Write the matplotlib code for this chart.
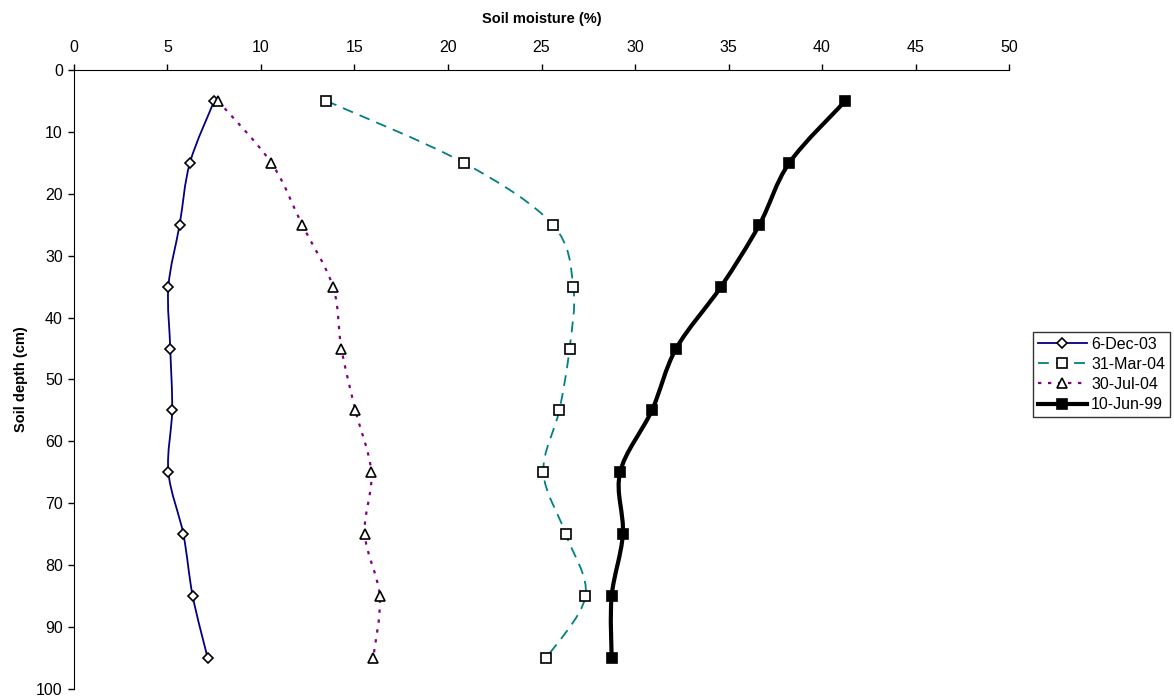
import numpy as np
import matplotlib
matplotlib.use("Agg")
import matplotlib.pyplot as plt
from matplotlib.path import Path
from matplotlib.patches import PathPatch
from matplotlib.lines import Line2D

plt.rcParams['font.family'] = ['Liberation Sans', 'DejaVu Sans']

depth = [5, 15, 25, 35, 45, 55, 65, 75, 85, 95]
dec03 = [7.5, 6.2, 5.65, 5.05, 5.15, 5.25, 5.05, 5.85, 6.35, 7.15]
mar04 = [13.5, 20.85, 25.6, 26.7, 26.5, 25.95, 25.1, 26.3, 27.35, 25.25]
jul04 = [7.7, 10.55, 12.2, 13.85, 14.3, 15.05, 15.9, 15.55, 16.35, 16.0]
jun99 = [41.25, 38.25, 36.65, 34.6, 32.2, 30.9, 29.2, 29.35, 28.75, 28.75]

labels = ["6-Dec-03", "31-Mar-04", "30-Jul-04", "10-Jun-99"]


def smooth_path(xs, ys):
    # Excel-style smoothed line: Catmull-Rom segments as cubic Beziers
    pts = np.column_stack([xs, ys]).astype(float)
    n = len(pts)
    verts = [pts[0]]
    codes = [Path.MOVETO]
    for i in range(n - 1):
        p0 = pts[i - 1] if i > 0 else pts[i]
        p1 = pts[i]
        p2 = pts[i + 1]
        p3 = pts[i + 2] if i + 2 < n else pts[i + 1]
        c1 = p1 + (p2 - p0) / 6.0
        c2 = p2 - (p3 - p1) / 6.0
        verts += [c1, c2, p2]
        codes += [Path.CURVE4] * 3
    return Path(verts, codes)


fig = plt.figure(figsize=(11.74, 6.99), dpi=100)
ax = fig.add_axes([0.063, 0.0143, 0.7965, 0.8856])

series = [
    (dec03, "#000080", "-", 1.3, "D", "white", 5),
    (mar04, "#008080", (0, (6, 4)), 1.3, "s", "white", 7),
    (jul04, "#800080", (0, (1.5, 3)), 1.6, "^", "white", 7),
    (jun99, "black", "-", 3.0, "s", "black", 7),
]

handles = []
for (vals, color, ls, lw, mk, mfc, ms), lab in zip(series, labels):
    patch = PathPatch(smooth_path(vals, depth), facecolor="none", edgecolor=color,
                      linestyle=ls, linewidth=lw, zorder=2)
    ax.add_patch(patch)
    ax.plot(vals, depth, linestyle="none", marker=mk, markersize=ms,
            markerfacecolor=mfc, markeredgecolor="black", markeredgewidth=1.2, zorder=3)
    handles.append(Line2D([], [], color=color, linestyle=ls, linewidth=lw, marker=mk,
                          markersize=ms, markerfacecolor=mfc, markeredgecolor="black",
                          markeredgewidth=1.2))

ax.set_xlim(0, 50)
ax.set_ylim(100, 0)
ax.set_xticks(range(0, 51, 5))
ax.set_yticks(range(0, 101, 10))
ax.xaxis.tick_top()
ax.xaxis.set_label_position("top")
ax.spines["right"].set_visible(False)
ax.spines["bottom"].set_visible(False)
ax.tick_params(direction="out", length=4, width=1, labelsize=11.5, pad=4)
ax.tick_params(axis="x", pad=7)
ax.set_xlabel("Soil moisture (%)", fontsize=10.5, fontweight="bold", labelpad=12)
ax.set_ylabel("Soil depth (cm)", fontsize=10.5, fontweight="bold", labelpad=6)

leg = fig.legend(handles, labels, loc="upper left", bbox_to_anchor=(0.8797, 0.525),
                 fontsize=11.5, frameon=True, fancybox=False, edgecolor="black",
                 handlelength=3.1, borderpad=0.3, labelspacing=0.32, handletextpad=0.25,
                 borderaxespad=0)
leg.get_frame().set_linewidth(1.0)

fig.savefig("out.png", dpi=100)
